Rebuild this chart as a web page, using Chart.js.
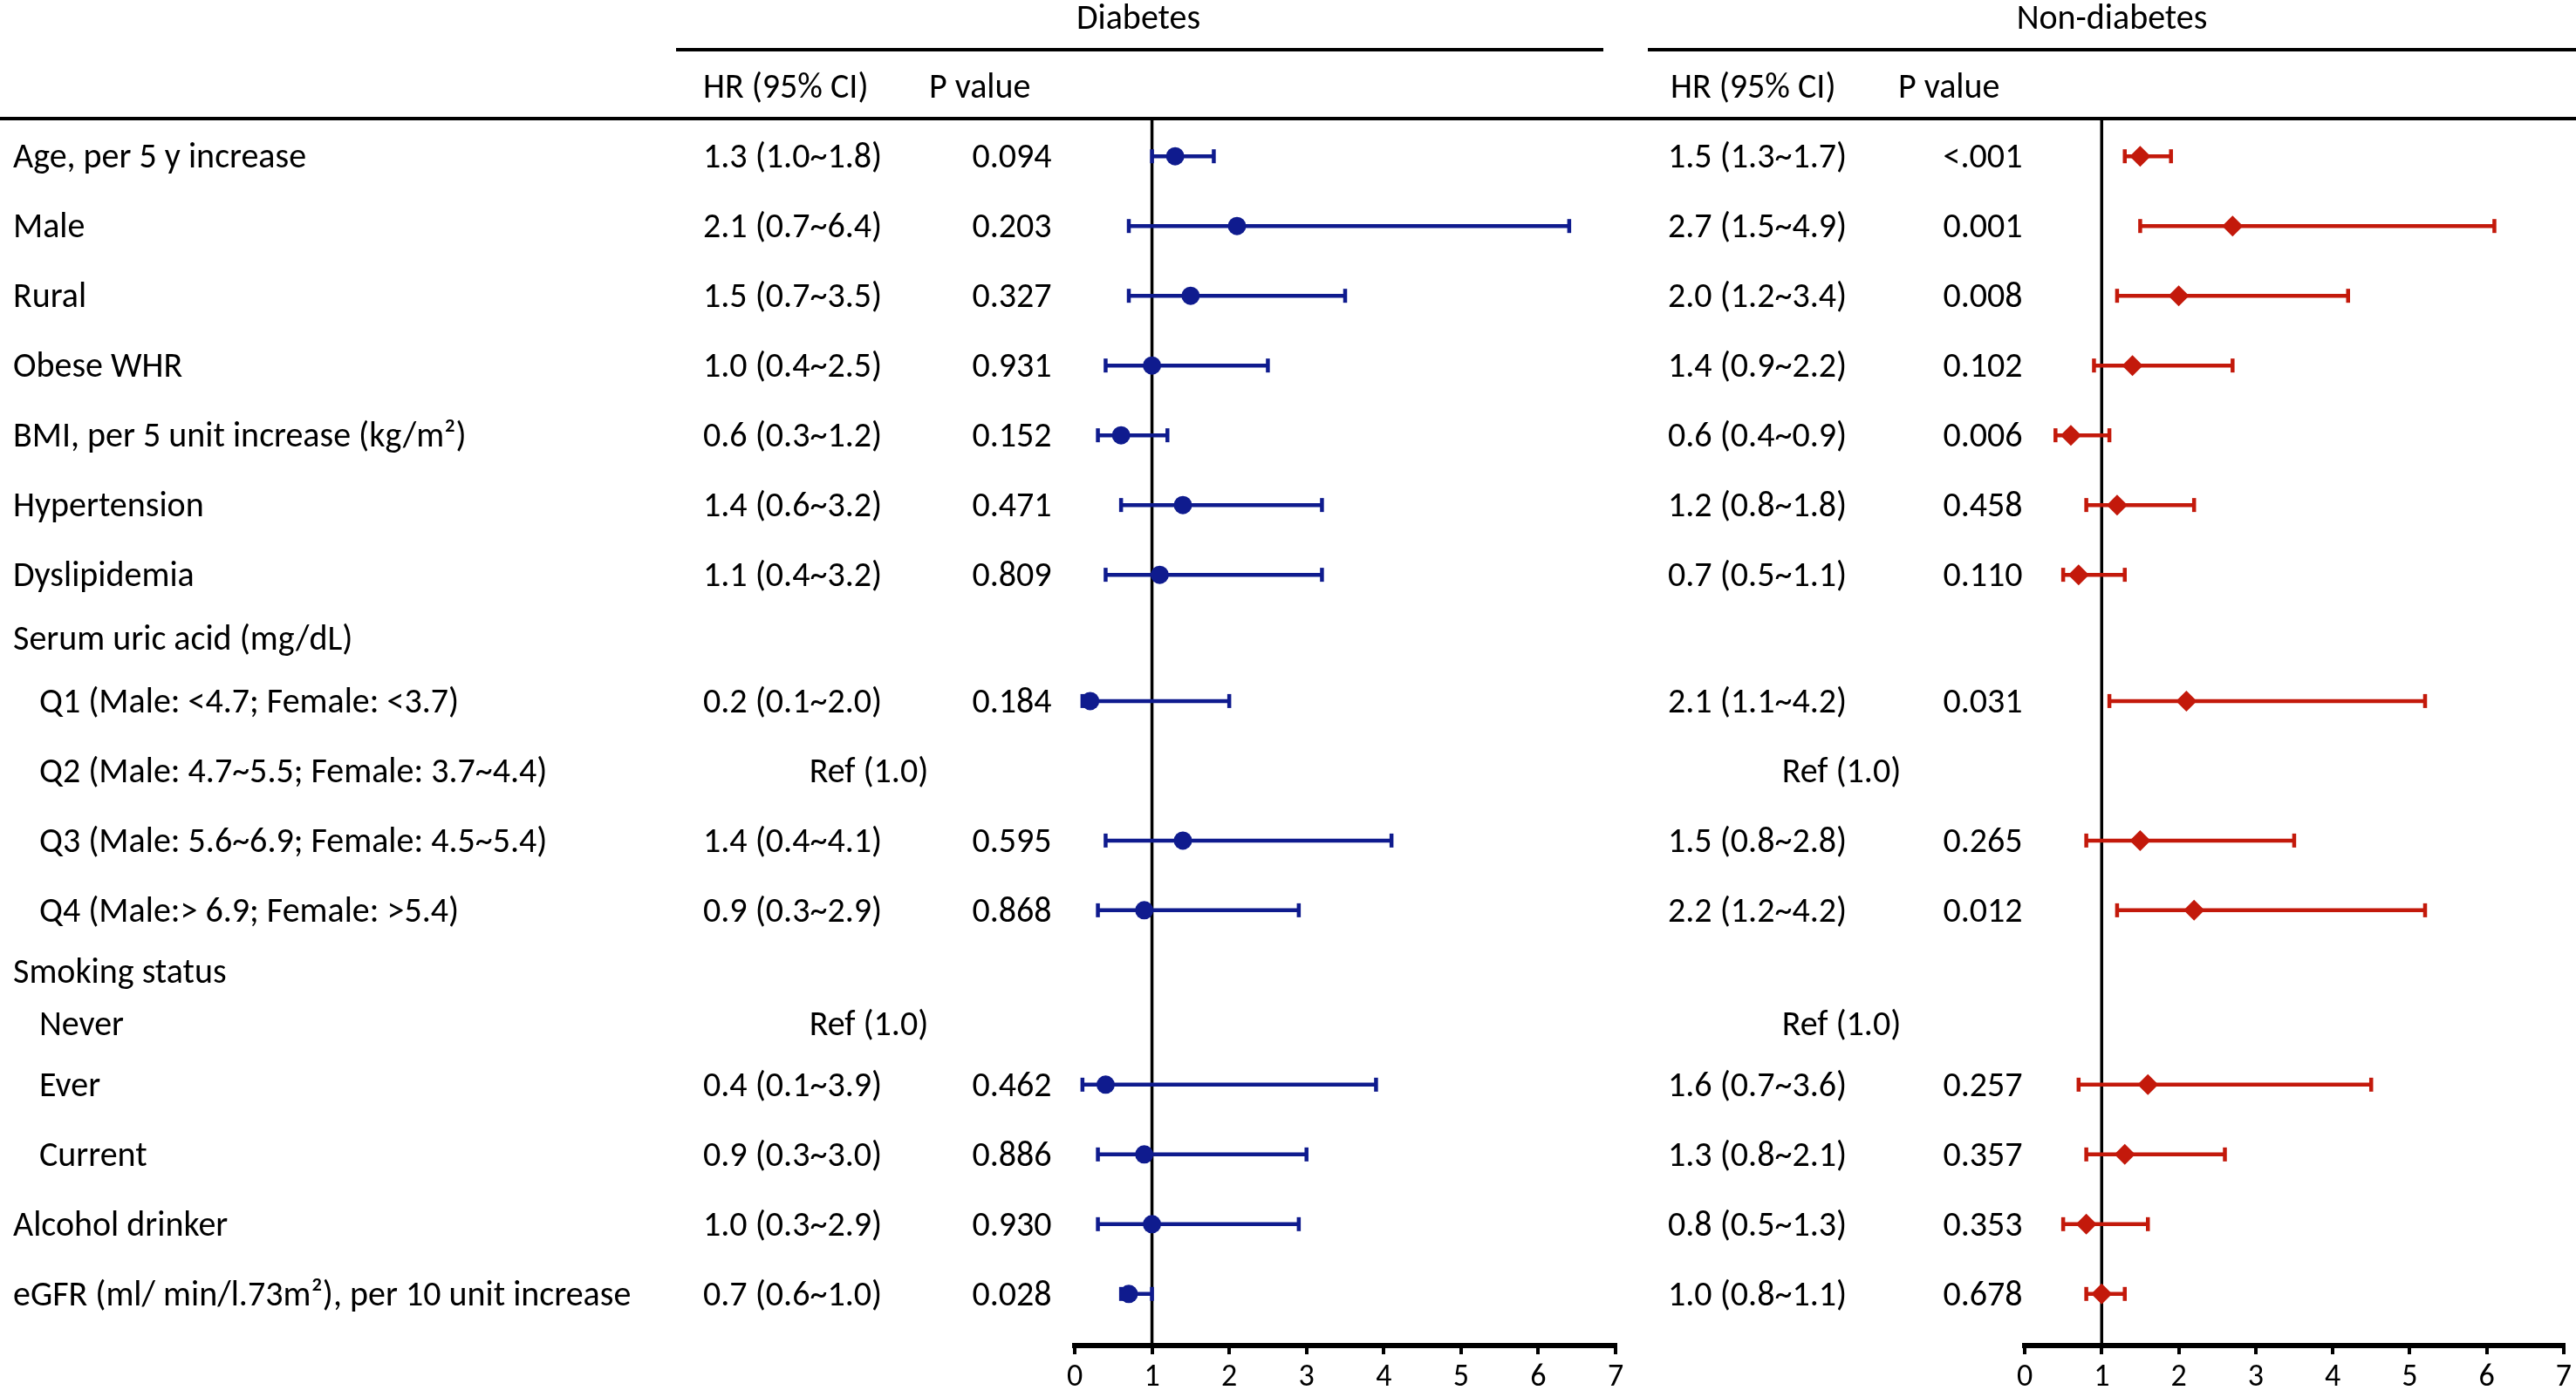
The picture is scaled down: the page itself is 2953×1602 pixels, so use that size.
<!DOCTYPE html>
<html>
<head>
<meta charset="utf-8">
<script src="https://cdn.jsdelivr.net/npm/chart.js@4.4.1/dist/chart.umd.min.js"></script>
<style>
  html, body { margin: 0; padding: 0; background: #fff; overflow: hidden; }
  #wrap { position: relative; width: 2953px; height: 1602px; }
  .pane { position: absolute; top: 0; height: 1602px; }
  #left { left: 0; width: 1880px; }
  #right { left: 1880px; width: 1073px; }
</style>
</head>
<body>
<div id="wrap">
  <div class="pane" id="left"><canvas id="cLeft" width="1880" height="1602"></canvas></div>
  <div class="pane" id="right"><canvas id="cRight" width="1073" height="1602"></canvas></div>
</div>
<script>
// ---- data ----
const LABELS = [
  'Age, per 5 y increase', 'Male', 'Rural', 'Obese WHR',
  'BMI, per 5 unit increase (kg/m\u00b2)', 'Hypertension', 'Dyslipidemia',
  'Serum uric acid (mg/dL)',
  'Q1 (Male: <4.7; Female: <3.7)', 'Q2 (Male: 4.7~5.5; Female: 3.7~4.4)',
  'Q3 (Male: 5.6~6.9; Female: 4.5~5.4)', 'Q4 (Male:> 6.9; Female: >5.4)',
  'Smoking status', 'Never', 'Ever', 'Current',
  'Alcohol drinker', 'eGFR (ml/ min/l.73m\u00b2), per 10 unit increase'
];
// 1 = sub-item of the group above
const LEVEL = [0, 0, 0, 0, 0, 0, 0, 0, 1, 1, 1, 1, 0, 1, 1, 1, 0, 0];

const DM_HR = ['1.3 (1.0~1.8)', '2.1 (0.7~6.4)', '1.5 (0.7~3.5)', '1.0 (0.4~2.5)', '0.6 (0.3~1.2)',
  '1.4 (0.6~3.2)', '1.1 (0.4~3.2)', null, '0.2 (0.1~2.0)', 'Ref (1.0)', '1.4 (0.4~4.1)',
  '0.9 (0.3~2.9)', null, 'Ref (1.0)', '0.4 (0.1~3.9)', '0.9 (0.3~3.0)', '1.0 (0.3~2.9)', '0.7 (0.6~1.0)'];
const DM_P = ['0.094', '0.203', '0.327', '0.931', '0.152', '0.471', '0.809', null, '0.184', null,
  '0.595', '0.868', null, null, '0.462', '0.886', '0.930', '0.028'];
const DM_EST = [1.3, 2.1, 1.5, 1.0, 0.6, 1.4, 1.1, null, 0.2, null, 1.4, 0.9, null, null, 0.4, 0.9, 1.0, 0.7];
const DM_LO  = [1.0, 0.7, 0.7, 0.4, 0.3, 0.6, 0.4, null, 0.1, null, 0.4, 0.3, null, null, 0.1, 0.3, 0.3, 0.6];
const DM_HI  = [1.8, 6.4, 3.5, 2.5, 1.2, 3.2, 3.2, null, 2.0, null, 4.1, 2.9, null, null, 3.9, 3.0, 2.9, 1.0];

const ND_HR = ['1.5 (1.3~1.7)', '2.7 (1.5~4.9)', '2.0 (1.2~3.4)', '1.4 (0.9~2.2)', '0.6 (0.4~0.9)',
  '1.2 (0.8~1.8)', '0.7 (0.5~1.1)', null, '2.1 (1.1~4.2)', 'Ref (1.0)', '1.5 (0.8~2.8)',
  '2.2 (1.2~4.2)', null, 'Ref (1.0)', '1.6 (0.7~3.6)', '1.3 (0.8~2.1)', '0.8 (0.5~1.3)', '1.0 (0.8~1.1)'];
const ND_P = ['<.001', '0.001', '0.008', '0.102', '0.006', '0.458', '0.110', null, '0.031', null,
  '0.265', '0.012', null, null, '0.257', '0.357', '0.353', '0.678'];
// bars as drawn in the figure
const ND_EST = [1.5, 2.7, 2.0, 1.4, 0.6, 1.2, 0.7, null, 2.1, null, 1.5, 2.2, null, null, 1.6, 1.3, 0.8, 1.0];
const ND_LO  = [1.3, 1.5, 1.2, 0.9, 0.4, 0.8, 0.5, null, 1.1, null, 0.8, 1.2, null, null, 0.7, 0.8, 0.5, 0.8];
const ND_HI  = [1.9, 6.1, 4.2, 2.7, 1.1, 2.2, 1.3, null, 5.2, null, 3.5, 5.2, null, null, 4.5, 2.6, 1.6, 1.3];

const X_TICKS = [0, 1, 2, 3, 4, 5, 6, 7];

// ---- layout ----
const BLUE = '#0f1b8e';
const RED = '#c3190b';
const FONT = '"Carlito", "Lato", sans-serif';
// spacing between consecutive rows (row units)
const ROW_STEP = [1, 1, 1, 1, 1, 1, 0.91, 0.9, 1, 1, 1, 0.875, 0.75, 0.875, 1, 1, 1];
const Y_TOP = -0.54, Y_BOT = 17.05;
const TEXT_DY = 3;

const rowY = [0];
ROW_STEP.forEach((s, i) => rowY.push(rowY[i] + s));

// size the text so the longest label spans like the original
const probe = document.createElement('canvas').getContext('2d');
probe.font = '100px ' + FONT;
const FONT_PX = Math.round(100 * 716 / probe.measureText(LABELS[17]).width);
const TICK_PX = Math.round(FONT_PX * 0.9);

function buildDatasets(est, lo, hi, color, style, radius) {
  const sets = [{
    data: [{ x: 1, y: Y_TOP }, { x: 1, y: Y_BOT }],
    showLine: true, borderColor: '#000', borderWidth: 3.5, pointRadius: 0, order: 10
  }];
  const caps = [], marks = [];
  est.forEach((v, i) => {
    if (v === null) return;
    sets.push({
      data: [{ x: lo[i], y: rowY[i] }, { x: hi[i], y: rowY[i] }],
      showLine: true, borderColor: color, borderWidth: 4.5, pointRadius: 0, order: 3
    });
    caps.push({ x: lo[i], y: rowY[i] }, { x: hi[i], y: rowY[i] });
    marks.push({ x: v, y: rowY[i] });
  });
  sets.push({
    data: caps, pointStyle: 'line', pointRotation: 90, pointRadius: 8,
    pointBorderWidth: 4.5, pointBorderColor: color, order: 2
  });
  sets.push({
    data: marks, pointStyle: style, pointRadius: radius, pointBorderWidth: 0,
    pointBackgroundColor: color, pointBorderColor: color, order: 1
  });
  return sets;
}

function tablePlugin(p) {
  return {
    id: 'table',
    afterDraw(chart) {
      const { ctx, width } = chart;
      const ys = chart.scales.y;
      ctx.save();
      ctx.fillStyle = '#000';
      ctx.strokeStyle = '#000';
      ctx.textBaseline = 'middle';
      ctx.font = FONT_PX + 'px ' + FONT;

      ctx.textAlign = 'center';
      ctx.fillText(p.title, p.titleX, 23);
      ctx.lineWidth = 4;
      ctx.beginPath();
      ctx.moveTo(p.ruleFrom, 57); ctx.lineTo(p.ruleTo, 57);
      ctx.moveTo(0, 136); ctx.lineTo(width, 136);
      ctx.stroke();

      ctx.textAlign = 'left';
      ctx.fillText('HR (95% CI)', p.headHrX, 102);
      ctx.fillText('P value', p.headPX, 102);

      p.hr.forEach((t, i) => {
        const y = ys.getPixelForValue(rowY[i]) + TEXT_DY;
        if (p.labels) {
          ctx.textAlign = 'left';
          ctx.fillText(LABELS[i], LEVEL[i] ? 45 : 15, y);
        }
        if (t === null) return;
        if (t.startsWith('Ref')) {
          ctx.textAlign = 'center';
          ctx.fillText(t, p.refX, y);
        } else {
          ctx.textAlign = 'left';
          ctx.fillText(t, p.hrX, y);
          ctx.textAlign = 'center';
          ctx.fillText(p.p[i], p.pX, y);
        }
      });
      ctx.restore();
    }
  };
}

function makeChart(id, panel, datasets, pad) {
  return new Chart(document.getElementById(id), {
    type: 'scatter',
    data: { datasets },
    options: {
      responsive: false,
      devicePixelRatio: 1,
      animation: false,
      events: [],
      layout: { padding: pad },
      plugins: { legend: { display: false }, tooltip: { enabled: false } },
      scales: {
        x: {
          type: 'linear', min: X_TICKS[0], max: X_TICKS[X_TICKS.length - 1], position: 'bottom',
          afterFit: s => { s.height = 59; },
          afterBuildTicks: s => { s.ticks = X_TICKS.map(v => ({ value: v })); },
          ticks: { color: '#000', font: { family: FONT, size: TICK_PX }, padding: 5 },
          grid: { drawOnChartArea: false, drawTicks: true, tickLength: 10, color: '#000', lineWidth: 4 },
          border: { display: true, color: '#000', width: 6 }
        },
        y: { type: 'linear', min: Y_TOP, max: Y_BOT, reverse: true, display: false }
      }
    },
    plugins: [tablePlugin(panel)]
  });
}

makeChart('cLeft', {
  title: 'Diabetes', titleX: 1305, ruleFrom: 775, ruleTo: 1838,
  headHrX: 806, headPX: 1065, hrX: 806, pX: 1160, refX: 996,
  hr: DM_HR, p: DM_P, labels: true
}, buildDatasets(DM_EST, DM_LO, DM_HI, BLUE, 'circle', 10.5),
  { left: 1232, right: 28, top: 136, bottom: 0 });

makeChart('cRight', {
  title: 'Non-diabetes', titleX: 541, ruleFrom: 9, ruleTo: 1073,
  headHrX: 35, headPX: 296, hrX: 32, pX: 393, refX: 231,
  hr: ND_HR, p: ND_P, labels: false
}, buildDatasets(ND_EST, ND_LO, ND_HI, RED, 'rectRot', 12),
  { left: 441, right: 14, top: 136, bottom: 0 });
</script>
</body>
</html>
